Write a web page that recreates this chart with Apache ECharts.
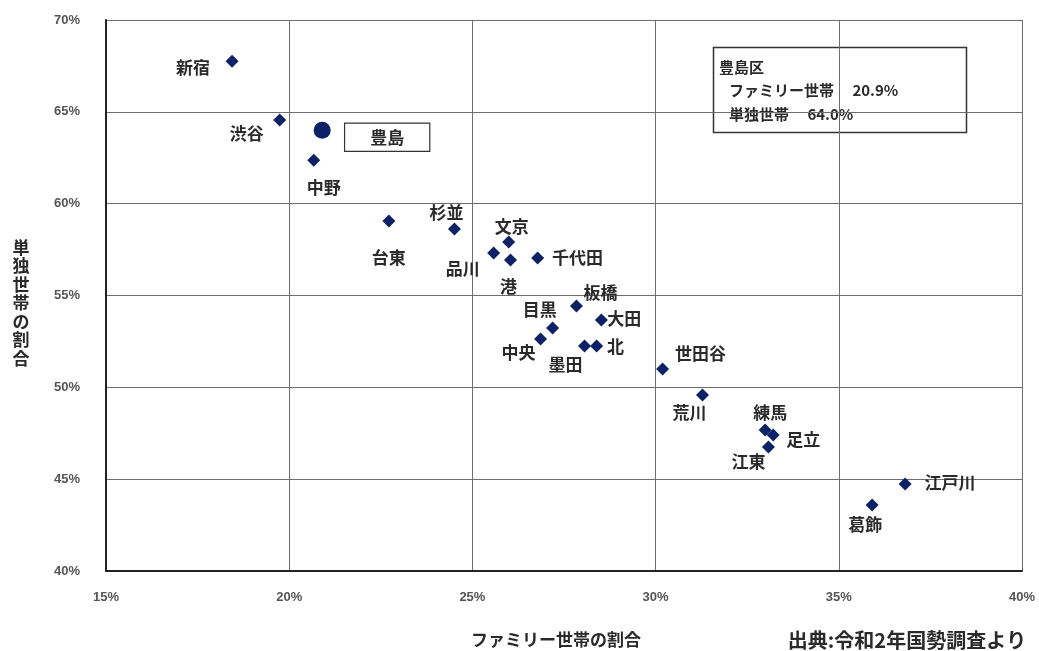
<!DOCTYPE html>
<html>
<head>
<meta charset="utf-8">
<script src="https://cdn.jsdelivr.net/npm/echarts@6/dist/echarts.min.js"></script>
<style>html,body{margin:0;padding:0;background:#fff}#c{width:1039px;height:651px}</style>
</head>
<body>
<div id="c"></div>
<script>
// Data (percent)
const wards = ['新宿','渋谷','中野','台東','杉並','品川','文京','港','千代田','板橋','目黒','中央','大田','墨田','北','世田谷','荒川','練馬','足立','江東','江戸川','葛飾'];
const familyShare = [18.44,19.74,20.67,22.72,24.51,25.58,25.99,26.04,26.78,27.84,27.19,26.86,28.52,28.06,28.39,30.19,31.28,32.99,33.21,33.08,36.81,35.91];
const singleShare = [67.76,64.55,62.37,59.05,58.62,57.31,57.91,56.93,57.04,54.43,53.23,52.63,53.66,52.25,52.25,51.00,49.58,47.68,47.40,46.75,44.74,43.59];
const highlightName = '豊島';
const highlightFamily = 20.9;
const highlightSingle = 64.0;
const xTicks = [15,20,25,30,35,40];
const yTicks = [40,45,50,55,60,65,70];

// Label layout (text-centre offsets from marker, px)
const labelOffsets = [[-39,6],[-33,13],[10,27],[0,36],[-8,-16],[-31,15],[3,-16],[-2,26],[40,0],[24,-13],[-13,-18],[-22,14],[23,-2],[-19,19],[19,1],[38,-15],[-13,17],[5,-17],[30,4],[-20,15],[45,-1],[-7,19]];

const navy = '#0c2266';
const txtFont = '"Noto Sans CJK JP", sans-serif';

const pts = wards.map((w,i)=>({
  name: w,
  value: [familyShare[i], singleShare[i]],
  label: {offset: labelOffsets[i]}
}));

const chart = echarts.init(document.getElementById('c'));
chart.setOption({
  animation: false,
  backgroundColor: '#fff',
  grid: {left: 106, right: 17, top: 20, bottom: 80},
  xAxis: {
    type: 'value', min: xTicks[0], max: xTicks[xTicks.length-1], interval: 5,
    axisLine: {show: true, onZero: false, lineStyle: {color: '#222', width: 2}},
    axisTick: {show: false},
    splitLine: {show: true, lineStyle: {color: '#6e6e6e', width: 1}},
    axisLabel: {formatter: '{value}%', margin: 20, color: '#555', fontSize: 13, fontWeight: 'bold', fontFamily: 'Liberation Sans, Arial'}
  },
  yAxis: {
    type: 'value', min: yTicks[0], max: yTicks[yTicks.length-1], interval: 5,
    axisLine: {show: true, onZero: false, lineStyle: {color: '#222', width: 2}},
    axisTick: {show: false},
    splitLine: {show: true, lineStyle: {color: '#6e6e6e', width: 1}},
    axisLabel: {formatter: '{value}%', margin: 26, color: '#555', fontSize: 13, fontWeight: 'bold', fontFamily: 'Liberation Sans, Arial'}
  },
  series: [
    {
      type: 'scatter', symbol: 'diamond', symbolSize: [13,13],
      itemStyle: {color: navy, opacity: 1},
      data: pts,
      label: {
        show: true, position: 'inside', formatter: '{b}',
        align: 'center', verticalAlign: 'middle',
        color: '#2a2a2a', fontSize: 17, fontWeight: 'bold', fontFamily: txtFont
      }
    },
    {
      type: 'scatter', symbol: 'circle', symbolSize: 17,
      itemStyle: {color: navy, opacity: 1},
      data: [{name: highlightName, value: [highlightFamily, highlightSingle]}],
      label: {
        show: true, position: 'inside', formatter: '{b}', offset: [65, 7],
        align: 'center', verticalAlign: 'middle',
        color: '#2a2a2a', fontSize: 17, fontWeight: 'bold', fontFamily: txtFont,
        backgroundColor: '#fff', borderColor: '#333', borderWidth: 1.2,
        padding: [5, 25, 5, 25]
      }
    }
  ],
  graphic: [
    {type: 'rect', shape: {x: 713.5, y: 47.5, width: 253, height: 85}, style: {fill: '#fff', stroke: '#333', lineWidth: 1.5}},
    {type: 'text', x: 719, y: 67, style: {text: '豊島区', fill: '#2a2a2a', font: 'bold 15px ' + txtFont, verticalAlign: 'middle'}},
    {type: 'text', x: 729, y: 90, style: {text: 'ファミリー世帯　 ' + highlightFamily.toFixed(1) + '%', fill: '#2a2a2a', font: 'bold 15px ' + txtFont, verticalAlign: 'middle'}},
    {type: 'text', x: 729, y: 114, style: {text: '単独世帯　 ' + highlightSingle.toFixed(1) + '%', fill: '#2a2a2a', font: 'bold 15px ' + txtFont, verticalAlign: 'middle'}},
    {type: 'text', x: 556, y: 640, style: {text: 'ファミリー世帯の割合', fill: '#2a2a2a', font: 'bold 17px ' + txtFont, align: 'center', verticalAlign: 'middle'}},
    {type: 'text', x: 907, y: 640, style: {text: '出典:令和2年国勢調査より', fill: '#2a2a2a', font: 'bold 20px ' + txtFont, align: 'center', verticalAlign: 'middle'}},
    {type: 'text', x: 21, y: 303, style: {text: '単独世帯の割合'.split('').join('\n'), fill: '#2a2a2a', font: 'bold 17px ' + txtFont, align: 'center', verticalAlign: 'middle', lineHeight: 18.5}}
  ]
});
</script>
</body>
</html>
